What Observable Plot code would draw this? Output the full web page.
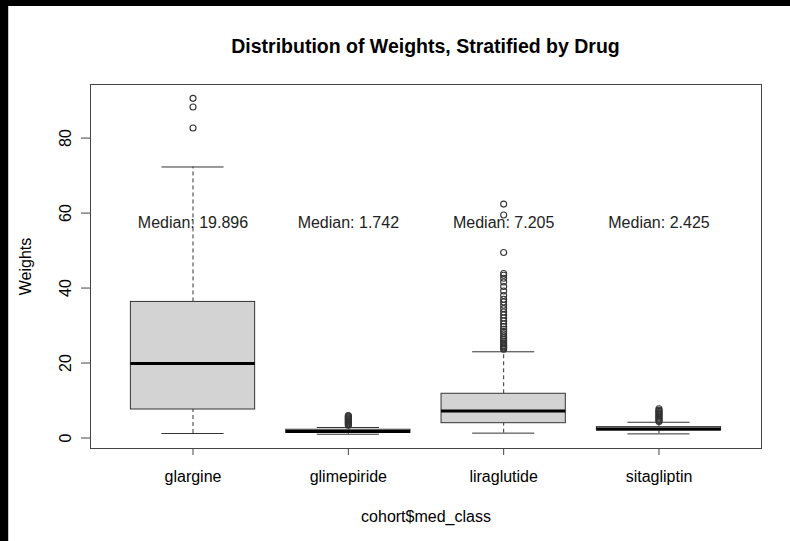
<!DOCTYPE html>
<html>
<head>
<meta charset="utf-8">
<script src="https://cdn.jsdelivr.net/npm/d3@7"></script>
<script src="https://cdn.jsdelivr.net/npm/@observablehq/plot@0.6"></script>
<style>
  html, body { margin: 0; padding: 0; background: #000; width: 790px; height: 541px; overflow: hidden; }
  #page { position: absolute; left: 8px; top: 6px; width: 782px; height: 535px; background: #fff;
          border-left: 1px solid #c8c8c8; box-sizing: border-box; font-family: "Liberation Sans", Arial, sans-serif; }
  #title { position: absolute; left: 0; top: 31px; width: 833px; text-align: center; font-weight: bold;
           font-size: 19.5px; line-height: 19px; color: #000; }
  #chart { position: absolute; left: 0; top: 60px; }
</style>
</head>
<body>
<div id="page">
  <div id="title">Distribution of Weights, Stratified by Drug</div>
  <div id="chart"></div>
</div>
<script>
// Weight summaries per drug class (five-number boxplot stats + outliers)
const categories = ["glargine", "glimepiride", "liraglutide", "sitagliptin"];
const whiskerLow  = [1.2, 1.0, 1.3, 1.1];
const quartile1   = [7.6, 1.35, 3.95, 2.0];
const medians     = [19.896, 1.742, 7.205, 2.425];
const quartile3   = [36.3, 2.2, 11.8, 2.9];
const whiskerHigh = [72.3, 2.8, 23.0, 4.2];
const outliers = [
  [82.7, 88.3, 90.6],
  [3.4, 3.6, 3.8, 4.0, 4.2, 4.4, 4.6, 4.8, 5.0, 5.2, 5.4, 5.6, 5.8, 6.0],
  [23.7, 24.0, 24.3, 24.6, 25.0, 25.4, 25.8, 26.2, 26.7, 27.2, 27.8, 28.4, 29.0, 29.7,
   30.4, 31.2, 32.0, 32.8, 33.6, 34.5, 35.4, 36.3, 37.0, 38.0, 39.2, 40.4, 41.6,
   42.6, 43.4, 43.9, 49.5, 59.5, 62.4],
  [4.4, 4.7, 5.0, 5.3, 5.6, 5.9, 6.2, 6.5, 6.8, 7.1, 7.4, 7.8]
];
const yTicks = [0, 20, 40, 60, 80];

const boxes = categories.map((name, i) => ({
  name, pos: i + 1,
  lo: whiskerLow[i], q1: quartile1[i], median: medians[i], q3: quartile3[i], hi: whiskerHigh[i]
}));
const outlierRows = categories.flatMap((name, i) => outliers[i].map(value => ({name, pos: i + 1, value})));

const half = 0.4;     // half box width in group units
const staple = 0.2;   // half staple width
const labelY = 57.5;  // height of the median annotations

const ink = "#333";
const chart = Plot.plot({
  width: 781,
  height: 475,
  marginLeft: 81,
  marginRight: 29,
  marginTop: 18,
  marginBottom: 93,
  style: { fontFamily: "Liberation Sans, Arial, sans-serif", fontSize: "16px", color: "#000", background: "#fff" },
  x: { type: "linear", domain: [0.34, 4.66] },
  y: { domain: [-2.8, 94.3] },
  marks: [
    // whiskers
    Plot.ruleX(boxes, { x: "pos", y1: "q3", y2: "hi", stroke: ink, strokeDasharray: "4,3" }),
    Plot.ruleX(boxes, { x: "pos", y1: "lo", y2: "q1", stroke: ink, strokeDasharray: "4,3" }),
    // staples
    Plot.ruleY(boxes, { y: "hi", x1: d => d.pos - staple, x2: d => d.pos + staple, stroke: ink }),
    Plot.ruleY(boxes, { y: "lo", x1: d => d.pos - staple, x2: d => d.pos + staple, stroke: ink }),
    // boxes
    Plot.rect(boxes, { x1: d => d.pos - half, x2: d => d.pos + half, y1: "q1", y2: "q3", fill: "#d3d3d3", stroke: ink }),
    // medians
    Plot.ruleY(boxes, { y: "median", x1: d => d.pos - half, x2: d => d.pos + half, stroke: "#000", strokeWidth: 3 }),
    // outliers
    Plot.dot(outlierRows, { x: "pos", y: "value", r: 3, stroke: ink, fill: "none", strokeWidth: 1.1 }),
    // median annotations
    Plot.text(boxes, { x: "pos", y: () => labelY, text: d => `Median: ${d.median}`, fontSize: 16, fill: "#222" }),
    Plot.frame({ stroke: "#444" }),
    Plot.axisY({ ticks: yTicks, tickSize: 9, tickPadding: 11, tickRotate: -90, stroke: "#444",
                 label: "Weights", labelAnchor: "center", labelOffset: 71, labelArrow: "none", fontSize: 16 }),
    Plot.axisX({ ticks: [1, 2, 3, 4], tickFormat: i => categories[i - 1], tickSize: 7, tickPadding: 15, stroke: "#444",
                 label: "cohort$med_class", labelAnchor: "center", labelOffset: 73, labelArrow: "none", fontSize: 16 })
  ]
});
document.getElementById("chart").appendChild(chart);
</script>
</body>
</html>
